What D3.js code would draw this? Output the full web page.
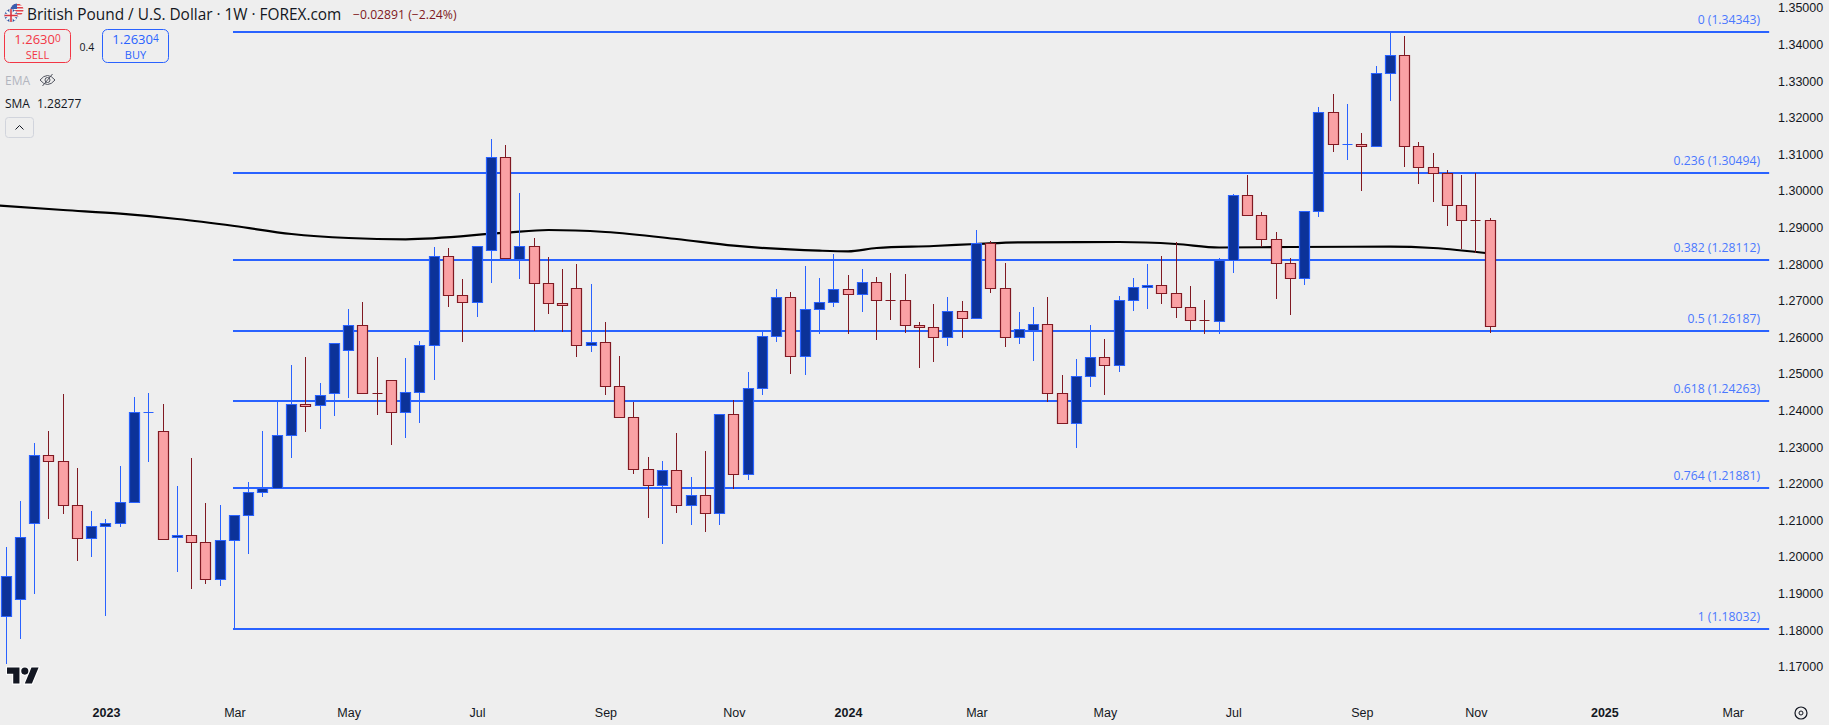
<!DOCTYPE html>
<html>
<head>
    <title>British Pound / U.S. Dollar 1W</title>
    <script src="https://d3js.org/d3.v7.min.js"></script>
    <style>
        html, body {
            margin: 0;
            padding: 0;
            background-color: #eeeeee;
            overflow: hidden;
        }

        svg {
            display: block;
            font-family: "Open Sans", sans-serif;
        }

        .axis text {
            font-size: 12.5px;
            fill: #131722;
        }

        .axis .year {
            font-weight: 600;
        }

        .fib-label {
            font-size: 12.2px;
            fill: #4a78ff;
            text-anchor: end;
        }
    </style>
</head>
<body>
    <svg width="1829" height="725"></svg>

    <script>
        // weekly bars, first one is the week of 14 Nov 2022
        var opens = [1.18379,1.18843,1.20919,1.22777,1.22614,1.21411,1.20510,1.20837,1.20919,1.21493,1.23952,1.23433,1.20537,1.20592,1.20400,1.19389,1.20455,1.21138,1.21767,1.21892,1.23324,1.24171,1.24144,1.24471,1.25646,1.26329,1.24471,1.24827,1.23952,1.24499,1.25783,1.28215,1.27149,1.26958,1.28379,1.30919,1.28141,1.28488,1.27477,1.26930,1.27340,1.25783,1.25865,1.24663,1.23816,1.22395,1.21974,1.22368,1.21411,1.21685,1.21193,1.23898,1.22258,1.24608,1.26029,1.27094,1.25482,1.26767,1.26958,1.27313,1.27176,1.27504,1.27012,1.27012,1.26329,1.26275,1.26002,1.26712,1.26521,1.28570,1.27340,1.26002,1.26201,1.26357,1.24471,1.23668,1.24936,1.25455,1.25236,1.27012,1.27368,1.27422,1.27204,1.26821,1.26466,1.26439,1.28127,1.29881,1.29335,1.28679,1.28023,1.27614,1.29444,1.32149,1.31275,1.31275,1.31220,1.33215,1.33706,1.31220,1.30646,1.30499,1.29608,1.29198,1.29198];
        var highs = [1.20272,1.21529,1.23114,1.23441,1.24452,1.22430,1.21256,1.21037,1.22485,1.24370,1.24480,1.24179,1.21939,1.22704,1.21474,1.21419,1.21138,1.22048,1.23441,1.24261,1.25245,1.25463,1.24753,1.25837,1.26775,1.26966,1.25463,1.24827,1.25436,1.25900,1.28469,1.28441,1.27594,1.28488,1.31420,1.31256,1.29944,1.28715,1.28195,1.27868,1.28004,1.27458,1.26420,1.25491,1.24234,1.22731,1.22622,1.23387,1.22185,1.22895,1.23898,1.24288,1.25053,1.26146,1.27321,1.27239,1.27950,1.27622,1.28277,1.27704,1.27868,1.27649,1.27758,1.27731,1.26420,1.26911,1.27103,1.26993,1.28933,1.28633,1.28032,1.26693,1.26829,1.27103,1.24971,1.25409,1.26338,1.25955,1.27130,1.27622,1.28004,1.28223,1.28605,1.27403,1.27021,1.28168,1.29917,1.30436,1.29425,1.28879,1.28168,1.29444,1.32294,1.32649,1.32376,1.31583,1.33414,1.34343,1.34234,1.31338,1.31037,1.30573,1.30436,1.30491,1.29261];
        var lows = [1.17111,1.17794,1.19015,1.21064,1.21201,1.19917,1.20026,1.18414,1.20846,1.21493,1.22622,1.20482,1.19616,1.19152,1.19288,1.19234,1.18032,1.20108,1.21674,1.21892,1.22731,1.23441,1.23523,1.23879,1.24370,1.24471,1.23906,1.23086,1.23277,1.23687,1.24862,1.26857,1.25900,1.26583,1.27512,1.28160,1.27622,1.26201,1.26665,1.26174,1.25491,1.25627,1.24452,1.23816,1.22302,1.21092,1.20381,1.21228,1.20900,1.20709,1.20900,1.21884,1.22130,1.24452,1.25900,1.25026,1.24999,1.26119,1.26857,1.26119,1.26720,1.25955,1.26502,1.26146,1.25190,1.25354,1.25791,1.26010,1.26521,1.27239,1.25764,1.25846,1.25381,1.24261,1.23668,1.23004,1.24671,1.24452,1.25081,1.26747,1.26802,1.26939,1.26556,1.26228,1.26119,1.26119,1.27786,1.29335,1.28496,1.27075,1.26638,1.27458,1.29316,1.31092,1.30873,1.30026,1.31220,1.32485,1.30682,1.30217,1.29726,1.29070,1.28441,1.28332,1.26155];
        var closes = [1.19488,1.20553,1.22777,1.22614,1.21411,1.20510,1.20837,1.20919,1.21493,1.23952,1.23952,1.20482,1.20592,1.20400,1.19389,1.20455,1.21138,1.21767,1.21892,1.23324,1.24171,1.24124,1.24417,1.25837,1.26329,1.24471,1.24470,1.23952,1.24499,1.25783,1.28215,1.27149,1.26958,1.28488,1.30919,1.28160,1.28488,1.27477,1.26930,1.26876,1.25783,1.25865,1.24663,1.23816,1.22395,1.21974,1.22368,1.21411,1.21685,1.21193,1.23898,1.22258,1.24608,1.26029,1.27094,1.25482,1.26767,1.26958,1.27313,1.27176,1.27504,1.27012,1.27011,1.26329,1.26275,1.26002,1.26712,1.26521,1.28570,1.27340,1.26002,1.26220,1.26357,1.24471,1.23668,1.24936,1.25455,1.25236,1.27012,1.27368,1.27422,1.27204,1.26821,1.26466,1.26465,1.28127,1.29881,1.29335,1.28679,1.28023,1.27614,1.29444,1.32149,1.31275,1.31275,1.31220,1.33215,1.33706,1.31220,1.30646,1.30499,1.29608,1.29198,1.29197,1.26302];

        // 200 period SMA, read at some of the bars
        var smaBars = [-1,4,8,12,16,20,24,28,35,38,42,47,51,57,59,61,65,68,71,78,82,85,90,97,100,104];
        var smaValues = [1.29616,1.29480,1.29379,1.29234,1.29042,1.28824,1.28715,1.28679,1.28859,1.28933,1.28879,1.28687,1.28504,1.28368,1.28351,1.28441,1.28496,1.28551,1.28597,1.28605,1.28551,1.28455,1.28469,1.28477,1.28441,1.28291];

        var fibLevels = ["0","0.236","0.382","0.5","0.618","0.764","1"];
        var fibPrices = [1.34343,1.30494,1.28112,1.26187,1.24263,1.21881,1.18032];

        var priceTicks = d3.range(17, 36).map(function(d) { return d / 100 + 1; });
        var timeLabels = ["2023","Mar","May","Jul","Sep","Nov","2024","Mar","May","Jul","Sep","Nov","2025","Mar"];
        var timeBars = [7,16,24,33,42,51,59,68,77,86,95,103,112,121];

        var upBorder = "#2962ff", upFill = "#0c3299";
        var downBorder = "#801922", downFill = "#faa1a4";

        var svg = d3.select("svg");

        var x = d3.scaleLinear().domain([0, 104]).range([6.1, 1490.18]);
        var y = d3.scaleLinear().domain([1.17, 1.35]).range([666.75, 7.95]);

        function px(i) { return Math.floor(x(i)) + 0.5; }
        function py(v) { return Math.round(y(v)) + 0.5; }

        // SMA goes under the bars
        var smaLine = d3.line()
            .x(function(d, i) { return x(smaBars[i]); })
            .y(function(d) { return y(d); })
            .curve(d3.curveMonotoneX);

        svg.append("path")
            .attr("d", smaLine(smaValues))
            .attr("fill", "none")
            .attr("stroke", "#000")
            .attr("stroke-width", 2.2);

        // fib retracement
        var fib = svg.append("g").selectAll("g")
            .data(fibPrices)
            .enter().append("g");

        fib.append("line")
            .attr("x1", x(15.9))
            .attr("x2", x(123.55))
            .attr("y1", function(d) { return Math.round(y(d)); })
            .attr("y2", function(d) { return Math.round(y(d)); })
            .attr("stroke", upBorder)
            .attr("stroke-width", 2);

        fib.append("text")
            .attr("class", "fib-label")
            .attr("x", 1760)
            .attr("y", function(d) { return Math.round(y(d)) - 8; })
            .text(function(d, i) { return fibLevels[i] + " (" + d3.format(".5f")(d) + ")"; });

        // candles
        var candle = svg.append("g").selectAll("g")
            .data(d3.range(opens.length))
            .enter().append("g");

        function isUp(i) { return closes[i] >= opens[i]; }

        candle.append("line")
            .attr("x1", px)
            .attr("x2", px)
            .attr("y1", function(i) { return py(highs[i]) - 0.5; })
            .attr("y2", function(i) { return py(lows[i]) + 0.5; })
            .attr("stroke", function(i) { return isUp(i) ? upBorder : downBorder; })
            .attr("stroke-width", 1);

        candle.append("path")
            .attr("d", function(i) {
                var top = py(Math.max(opens[i], closes[i]));
                var h = py(Math.min(opens[i], closes[i])) - top;
                return "M" + (px(i) - 5) + "," + top + "h10v" + h + "h-10z";
            })
            .attr("fill", function(i) { return isUp(i) ? upFill : downFill; })
            .attr("stroke", function(i) { return isUp(i) ? upBorder : downBorder; })
            .attr("stroke-width", 1.2);

        // axes
        var priceAxis = d3.axisRight(y)
            .tickValues(priceTicks)
            .tickFormat(d3.format(".5f"))
            .tickSize(0)
            .tickPadding(0);

        var priceG = svg.append("g")
            .attr("class", "axis")
            .attr("transform", "translate(1778,0)")
            .call(priceAxis);
        priceG.select(".domain").remove();

        var timeAxis = d3.axisBottom(x)
            .tickValues(timeBars)
            .tickFormat(function(d, i) { return timeLabels[i]; })
            .tickSize(0)
            .tickPadding(0);

        var timeG = svg.append("g")
            .attr("class", "axis")
            .attr("transform", "translate(0,708)")
            .call(timeAxis);
        timeG.select(".domain").remove();
        timeG.selectAll("text")
            .classed("year", function(d, i) { return /^\d+$/.test(timeLabels[i]); });

        // header
        var head = svg.append("g");

        var clip = head.append("defs");
        clip.append("clipPath").attr("id", "ukFlag").append("circle").attr("cx", 11).attr("cy", 15.5).attr("r", 6.5);
        clip.append("clipPath").attr("id", "usFlag").append("circle").attr("cx", 17).attr("cy", 10).attr("r", 6.5);

        var us = head.append("g").attr("clip-path", "url(#usFlag)");
        us.append("rect").attr("x", 10).attr("y", 3).attr("width", 14).attr("height", 14).attr("fill", "#f5f5f5");
        [4, 7, 10, 13, 16].forEach(function(v) {
            us.append("rect").attr("x", 10).attr("y", v).attr("width", 14).attr("height", 1.5).attr("fill", "#e0434b");
        });
        us.append("rect").attr("x", 10).attr("y", 3).attr("width", 7).attr("height", 6).attr("fill", "#3a5fb0");

        var uk = head.append("g").attr("clip-path", "url(#ukFlag)");
        uk.append("rect").attr("x", 4).attr("y", 9).attr("width", 14).attr("height", 14).attr("fill", "#2c4f9e");
        uk.append("path").attr("d", "M4,9L18,22M18,9L4,22").attr("stroke", "#f5f5f5").attr("stroke-width", 2.4);
        uk.append("path").attr("d", "M11,9V22M4,15.5H18").attr("stroke", "#f5f5f5").attr("stroke-width", 3.4);
        uk.append("path").attr("d", "M11,9V22M4,15.5H18").attr("stroke", "#d9343f").attr("stroke-width", 1.6);

        head.append("text")
            .attr("x", 27).attr("y", 19.5)
            .attr("font-size", 15.4).attr("fill", "#131722")
            .text("British Pound / U.S. Dollar · 1W · FOREX.com");

        head.append("text")
            .attr("x", 353).attr("y", 18.5)
            .attr("font-size", 12.2).attr("fill", "#801922")
            .text("−0.02891 (−2.24%)");

        // sell and buy boxes
        function quoteBox(left, color, big, small, label) {
            head.append("rect")
                .attr("x", left + 0.5).attr("y", 29.5)
                .attr("width", 66).attr("height", 33).attr("rx", 5)
                .attr("fill", "none").attr("stroke", color);
            var t = head.append("text")
                .attr("x", left + 33.5).attr("y", 44)
                .attr("text-anchor", "middle")
                .attr("font-size", 13).attr("fill", color);
            t.append("tspan").text(big);
            t.append("tspan").attr("font-size", 10).attr("dy", -2).text(small);
            head.append("text")
                .attr("x", left + 33.5).attr("y", 58.5)
                .attr("text-anchor", "middle")
                .attr("font-size", 11).attr("fill", color)
                .text(label);
        }
        quoteBox(4, "#f23645", "1.2630", "0", "SELL");
        quoteBox(102, "#2962ff", "1.2630", "4", "BUY");

        head.append("text")
            .attr("x", 79.5).attr("y", 50.5)
            .attr("font-size", 10.5).attr("fill", "#131722")
            .text("0.4");

        head.append("text")
            .attr("x", 5).attr("y", 84.5)
            .attr("font-size", 12).attr("fill", "#b2b5be")
            .text("EMA");

        // hidden eye
        head.append("path")
            .attr("d", "M40,80Q47.5,71 55,80Q47.5,89 40,80ZM42.5,86L52.5,74")
            .attr("fill", "none").attr("stroke", "#50535e").attr("stroke-width", 1);
        head.append("circle")
            .attr("cx", 47.5).attr("cy", 80).attr("r", 2.5)
            .attr("fill", "none").attr("stroke", "#50535e");

        head.append("text")
            .attr("x", 5).attr("y", 107.5)
            .attr("font-size", 12).attr("fill", "#131722")
            .text("SMA");
        head.append("text")
            .attr("x", 37).attr("y", 107.5)
            .attr("font-size", 12).attr("fill", "#131722")
            .text("1.28277");

        head.append("rect")
            .attr("x", 5.5).attr("y", 117.5)
            .attr("width", 28).attr("height", 20).attr("rx", 3)
            .attr("fill", "none").attr("stroke", "#d1d4dc");
        head.append("path")
            .attr("d", "M15.5,129.5L19.5,125.5L23.5,129.5")
            .attr("fill", "none").attr("stroke", "#131722");

        // tradingview logo
        var logo = svg.append("g").attr("transform", "translate(7,664) scale(0.89)");
        logo.append("path")
            .attr("d", "M14 22H7V11H0V4h14v18zM28 22h-8l7.5-18h8L28 22z")
            .attr("fill", "#131722").attr("stroke", "#fff").attr("stroke-width", 2.4)
            .attr("paint-order", "stroke");
        logo.append("circle")
            .attr("cx", 20).attr("cy", 8).attr("r", 4)
            .attr("fill", "#131722").attr("stroke", "#fff").attr("stroke-width", 2.4)
            .attr("paint-order", "stroke");

        // settings gear
        var gear = svg.append("g").attr("transform", "translate(1801,713)");
        gear.append("circle").attr("r", 6).attr("fill", "none").attr("stroke", "#131722").attr("stroke-width", 1.2);
        gear.append("circle").attr("r", 2).attr("fill", "none").attr("stroke", "#131722");
    </script>
</body>
</html>
